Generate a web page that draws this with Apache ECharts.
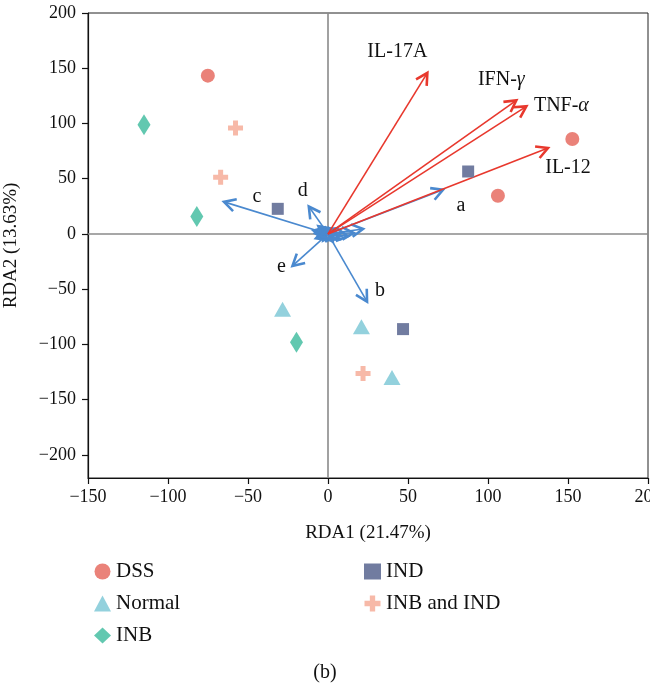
<!DOCTYPE html>
<html>
<head>
<meta charset="utf-8">
<script src="https://cdn.jsdelivr.net/npm/echarts@6/dist/echarts.min.js"></script>
<style>
html,body{margin:0;padding:0;background:#fff;}
#chart{width:650px;height:684px;}
</style>
</head>
<body>
<div id="chart"></div>
<script>
// ---- data ----
const xTicks = [-150, -100, -50, 0, 50, 100, 150, 200];
const yTicks = [-200, -150, -100, -50, 0, 50, 100, 150, 200];

const dssX = [-75.1, 106.2, 152.7];
const dssY = [143.3, 34.5, 85.9];
const indX = [-31.4, 87.6, 46.9];
const indY = [22.7, 56.5, -86.2];
const normalX = [-28.4, 20.9, 40.0];
const normalY = [-68.3, -84.0, -130.0];
const inbX = [-115.0, -82.0, -19.7];
const inbY = [98.9, 15.7, -98.2];
const inbIndX = [-57.8, -67.1, 21.9];
const inbIndY = [95.9, 51.4, -126.4];

const redNames = ['IL-17A', 'IFN-γ', 'TNF-α', 'IL-12'];
const redX = [62.1, 117.7, 124.0, 137.5];
const redY = [145.8, 120.9, 115.5, 77.7];

const blueNames = ['a', 'b', 'c', 'd', 'e', '', '', '', '', '', '', '', '', '', '', '', '', '', '', '', ''];
const blueX = [71.9, 24.4, -65.0, -12.0, -22.2, 21.9, 12.4, 16.0, -9.0, -7.5, -4.0, 5.0, 7.0, -8.0, 3.0, -3.0, -6.0, 4.0, -2.0, 8.0, -5.0];
const blueY = [39.9, -61.4, 29.0, 24.8, -29.0, 4.5, -2.0, 1.0, 3.0, -4.0, 6.0, 5.0, -5.0, 0.5, -7.0, -6.0, 7.0, 2.0, 4.0, -2.0, -2.0];

// ---- styles / label placement ----
const FONT = "'Liberation Serif', 'DejaVu Serif', serif";
const RED = '#E8382D';
const BLUE = '#4A89CF';
const labelOffset = {
  'IL-17A': [-30, -21], 'IFN-γ': [-15, -21], 'TNF-α': [35, -1], 'IL-12': [20, 20],
  'a': [18, 16], 'b': [13, -11], 'c': [33, -5], 'd': [-6, -16], 'e': [-11, 1]
};
const richName = {
  'IFN-γ': '{n|IFN-}{i|γ}',
  'TNF-α': '{n|TNF-}{i|α}'
};

function zip(xs, ys) { return xs.map((x, i) => [x, ys[i]]); }

function arrowRender(names, color) {
  return function (params, api) {
    const i = params.dataIndex;
    const o = api.coord([0, 0]);
    const t = api.coord([api.value(0), api.value(1)]);
    const ang = Math.atan2(t[1] - o[1], t[0] - o[0]);
    const L = 13, a = 0.5;
    const p1 = [t[0] - L * Math.cos(ang - a), t[1] - L * Math.sin(ang - a)];
    const p2 = [t[0] - L * Math.cos(ang + a), t[1] - L * Math.sin(ang + a)];
    const children = [
      { type: 'line', shape: { x1: o[0], y1: o[1], x2: t[0], y2: t[1] },
        style: { stroke: color, lineWidth: 1.6 } },
      { type: 'polyline', shape: { points: [p1, t, p2] },
        style: { stroke: color, lineWidth: 2.6, fill: null, lineJoin: 'miter' } }
    ];
    const nm = names[i];
    if (nm) {
      const off = labelOffset[nm] || [0, 0];
      const txt = richName[nm] || nm;
      children.push({
        type: 'text', x: t[0] + off[0], y: t[1] + off[1],
        style: {
          text: txt, fill: '#111', font: '20px ' + FONT,
          align: 'center', verticalAlign: 'middle',
          rich: {
            n: { fontFamily: FONT, fontSize: 20, fill: '#111' },
            i: { fontFamily: FONT, fontSize: 20, fontStyle: 'italic', fill: '#111' }
          }
        }
      });
    }
    return { type: 'group', children: children };
  };
}

const crossPath = 'path://M5,0H10V5H15V10H10V15H5V10H0V5H5Z';

const chart = echarts.init(document.getElementById('chart'), null, { renderer: 'canvas' });
chart.setOption({
  animation: false,
  backgroundColor: '#fff',
  textStyle: { fontFamily: FONT },
  grid: { left: 88, right: 2, top: 13, bottom: 206, show: true, borderColor: '#222', borderWidth: 1,
    containLabel: false, outerBoundsMode: 'none' },
  xAxis: {
    type: 'value', min: -150, max: 200, interval: 50,
    name: 'RDA1 (21.47%)', nameLocation: 'middle', nameGap: 46,
    nameTextStyle: { fontFamily: FONT, fontSize: 19, color: '#111' },
    axisLine: { show: true, onZero: false, lineStyle: { color: '#111', width: 1.2 } },
    axisTick: { show: true, length: 6, lineStyle: { color: '#111', width: 1.2 } },
    axisLabel: { fontFamily: FONT, fontSize: 18, color: '#111', margin: 10, showMaxLabel: true, showMinLabel: true,
      formatter: v => (v < 0 ? '\u2212' + Math.abs(v) : '' + v) },
    splitLine: { show: false }
  },
  yAxis: {
    type: 'value', min: -221, max: 200,
    name: 'RDA2 (13.63%)', nameLocation: 'middle', nameGap: 67, nameRotate: 90,
    nameTextStyle: { fontFamily: FONT, fontSize: 19, color: '#111' },
    axisLine: { show: true, onZero: false, lineStyle: { color: '#111', width: 1.2 } },
    axisTick: { show: true, length: 6, customValues: yTicks, lineStyle: { color: '#111', width: 1.2 } },
    axisLabel: { fontFamily: FONT, fontSize: 18, color: '#111', margin: 12, customValues: yTicks,
      formatter: v => (v < 0 ? '\u2212' + Math.abs(v) : '' + v) },
    splitLine: { show: false }
  },
  legend: [
    { data: ['DSS', 'Normal', 'INB'], orient: 'vertical', left: 89, top: 556,
      itemWidth: 17, itemHeight: 16, itemGap: 11,
      textStyle: { fontFamily: FONT, fontSize: 21, color: '#111' } },
    { data: ['IND', 'INB and IND'], orient: 'vertical', left: 359, top: 556,
      itemWidth: 17, itemHeight: 16, itemGap: 11,
      textStyle: { fontFamily: FONT, fontSize: 21, color: '#111' } }
  ],
  graphic: [
    { type: 'text', left: 'center', top: 663, style: { text: '(b)', font: '20px ' + FONT, fill: '#111' } }
  ],
  series: [
    {
      type: 'custom', name: 'blueArrows', coordinateSystem: 'cartesian2d',
      data: zip(blueX, blueY), encode: { x: 0, y: 1 },
      renderItem: arrowRender(blueNames, BLUE), z: 3, silent: true,
      markLine: {
        silent: true, symbol: 'none', label: { show: false },
        lineStyle: { color: '#8a8a8a', width: 1.6, type: 'solid' },
        data: [{ xAxis: 0 }, { yAxis: 0 }], z: 1
      }
    },
    {
      type: 'custom', name: 'redArrows', coordinateSystem: 'cartesian2d',
      data: zip(redX, redY), encode: { x: 0, y: 1 },
      renderItem: arrowRender(redNames, RED), z: 4, silent: true
    },
    { type: 'scatter', name: 'DSS', data: zip(dssX, dssY), symbol: 'circle', symbolSize: 14,
      itemStyle: { color: '#EA8279', opacity: 1 }, z: 5 },
    { type: 'scatter', name: 'Normal', data: zip(normalX, normalY), symbol: 'triangle', symbolSize: [17, 15],
      itemStyle: { color: '#93D1DD', opacity: 1 }, z: 5 },
    { type: 'scatter', name: 'INB', data: zip(inbX, inbY), symbol: 'diamond', symbolSize: [13, 21],
      itemStyle: { color: '#62C8B0', opacity: 1 }, z: 5 },
    { type: 'scatter', name: 'IND', data: zip(indX, indY), symbol: 'rect', symbolSize: 12,
      itemStyle: { color: '#717CA0', opacity: 1 }, z: 5 },
    { type: 'scatter', name: 'INB and IND', data: zip(inbIndX, inbIndY), symbol: crossPath, symbolSize: 15,
      itemStyle: { color: '#F7B9A8', opacity: 1 }, z: 5 }
  ]
});
</script>
</body>
</html>
